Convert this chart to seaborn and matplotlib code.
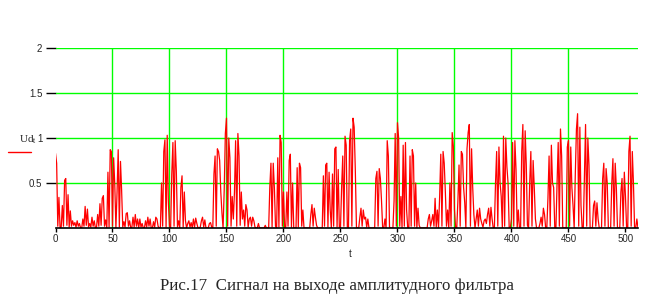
import numpy as np
import pandas as pd
import matplotlib
matplotlib.use("Agg")
import matplotlib.pyplot as plt
from matplotlib.lines import Line2D
import seaborn as sns

# Sample values of the filter output Ud_t, t = 0..511
ud = [
    0.83, 0.72, 0.02, 0.34, 0.00, 0.01, 0.25, 0.02, 0.53, 0.55, 0.03, 0.37, 0.01, 0.19, 0.02, 0.08,
    0.03, 0.06, 0.01, 0.08, 0.02, 0.05, 0.00, 0.00, 0.10, 0.02, 0.24, 0.03, 0.21, 0.01, 0.05, 0.01,
    0.12, 0.02, 0.08, 0.00, 0.01, 0.15, 0.02, 0.27, 0.03, 0.33, 0.36, 0.02, 0.09, 0.00, 0.62, 0.01,
    0.87, 0.85, 0.02, 0.78, 0.48, 0.00, 0.40, 0.87, 0.01, 0.74, 0.42, 0.01, 0.07, 0.01, 0.16, 0.17,
    0.02, 0.08, 0.00, 0.01, 0.12, 0.01, 0.15, 0.02, 0.10, 0.00, 0.10, 0.01, 0.05, 0.00, 0.00, 0.08,
    0.01, 0.12, 0.02, 0.10, 0.00, 0.00, 0.07, 0.01, 0.12, 0.10, 0.02, 0.00, 0.00, 0.50, 0.02, 0.85,
    0.98, 0.01, 1.03, 0.29, 0.02, 0.00, 0.60, 0.95, 0.02, 0.97, 0.63, 0.01, 0.08, 0.00, 0.45, 0.58,
    0.01, 0.40, 0.08, 0.00, 0.05, 0.08, 0.01, 0.06, 0.00, 0.10, 0.01, 0.11, 0.05, 0.00, 0.00, 0.01,
    0.08, 0.12, 0.01, 0.09, 0.00, 0.00, 0.00, 0.05, 0.06, 0.01, 0.00, 0.60, 0.80, 0.02, 0.88, 0.85,
    0.75, 0.40, 0.17, 0.00, 0.42, 1.05, 1.22, 0.02, 1.00, 0.78, 0.02, 0.35, 0.10, 0.40, 0.97, 0.02,
    1.05, 0.80, 0.03, 0.40, 0.10, 0.20, 0.02, 0.26, 0.20, 0.01, 0.10, 0.12, 0.02, 0.12, 0.08, 0.01,
    0.00, 0.00, 0.05, 0.00, 0.00, 0.00, 0.00, 0.00, 0.03, 0.00, 0.00, 0.00, 0.45, 0.72, 0.01, 0.72,
    0.45, 0.02, 0.00, 0.78, 0.01, 1.03, 0.95, 0.02, 0.40, 0.00, 0.01, 0.40, 0.02, 0.75, 0.82, 0.01,
    0.50, 0.00, 0.00, 0.00, 0.67, 0.01, 0.72, 0.67, 0.02, 0.20, 0.00, 0.00, 0.00, 0.00, 0.00, 0.00,
    0.15, 0.26, 0.02, 0.22, 0.12, 0.03, 0.00, 0.00, 0.00, 0.00, 0.00, 0.58, 0.02, 0.70, 0.72, 0.01,
    0.62, 0.20, 0.00, 0.60, 0.02, 0.88, 0.90, 0.01, 0.65, 0.00, 0.00, 0.45, 0.80, 0.02, 1.02, 0.92,
    0.01, 0.00, 0.97, 1.10, 0.02, 1.22, 1.12, 0.65, 0.01, 0.00, 0.00, 0.12, 0.22, 0.02, 0.20, 0.10,
    0.12, 0.01, 0.10, 0.00, 0.00, 0.00, 0.00, 0.00, 0.00, 0.55, 0.63, 0.02, 0.66, 0.55, 0.30, 0.00,
    0.00, 0.10, 0.00, 0.97, 0.80, 0.01, 0.00, 0.00, 0.00, 0.30, 1.05, 0.02, 1.17, 1.00, 0.02, 0.35,
    0.00, 0.92, 0.02, 0.95, 0.20, 0.00, 0.01, 0.80, 0.02, 0.87, 0.80, 0.02, 0.50, 0.00, 0.22, 0.03,
    0.00, 0.00, 0.00, 0.00, 0.00, 0.00, 0.00, 0.10, 0.15, 0.02, 0.08, 0.15, 0.02, 0.33, 0.01, 0.20,
    0.00, 0.35, 0.82, 0.02, 0.85, 0.72, 0.40, 0.02, 0.20, 0.00, 0.50, 0.02, 1.06, 0.91, 0.20, 0.00,
    0.00, 0.30, 0.70, 0.02, 0.85, 0.82, 0.45, 0.28, 0.00, 0.88, 1.06, 1.15, 0.02, 0.88, 0.45, 0.15,
    0.00, 0.10, 0.20, 0.02, 0.22, 0.10, 0.05, 0.01, 0.08, 0.10, 0.05, 0.15, 0.22, 0.02, 0.23, 0.10,
    0.00, 0.00, 0.50, 0.85, 0.02, 0.90, 0.50, 0.35, 0.00, 1.02, 0.02, 1.00, 0.68, 0.50, 0.00, 0.00,
    0.10, 0.95, 0.02, 0.97, 0.65, 0.00, 0.20, 0.00, 0.00, 0.85, 1.15, 0.02, 1.08, 0.70, 0.03, 0.00,
    0.50, 0.85, 0.02, 0.75, 0.45, 0.10, 0.00, 0.00, 0.00, 0.05, 0.12, 0.02, 0.22, 0.15, 0.00, 0.00,
    0.33, 0.80, 0.02, 0.92, 0.50, 0.45, 0.00, 0.00, 0.50, 0.95, 0.02, 1.10, 0.80, 0.00, 0.00, 0.00,
    0.00, 0.90, 0.97, 0.02, 0.90, 0.45, 0.25, 0.00, 0.60, 1.10, 1.27, 0.02, 1.12, 0.25, 0.00, 0.00,
    0.58, 1.15, 0.02, 1.00, 0.70, 0.00, 0.00, 0.00, 0.25, 0.30, 0.02, 0.28, 0.10, 0.00, 0.00, 0.00,
    0.55, 0.72, 0.02, 0.66, 0.50, 0.00, 0.00, 0.00, 0.50, 0.77, 0.02, 0.72, 0.45, 0.00, 0.00, 0.00,
    0.40, 0.55, 0.02, 0.62, 0.35, 0.00, 0.00, 0.85, 1.02, 0.02, 0.85, 0.50, 0.00, 0.00, 0.10, 0.00,
]
t = list(range(len(ud)))

x_ticks = [0, 50, 100, 150, 200, 250, 300, 350, 400, 450, 500]
y_ticks = [0.5, 1, 1.5, 2]
y_tick_labels = ["0.5", "1", "1.5", "2"]
x_grid = [50, 100, 150, 200, 300, 350, 400, 450]
caption = "Рис.17  Сигнал на выходе амплитудного фильтра"
legend_label = r"Ud$_{\mathrm{t}}$"

sns.set_style("white")
plt.rcParams["font.family"] = ["Liberation Sans", "DejaVu Sans"]
plt.rcParams["mathtext.fontset"] = "custom"
plt.rcParams["mathtext.rm"] = "Liberation Serif"

W, H = 649, 300
fig = plt.figure(figsize=(W / 100, H / 100), dpi=100)
left, right = 55.5 / W, 638 / W
bottom, top = 1 - 228 / H, 1 - 48 / H
ax = fig.add_axes([left, bottom, right - left, top - bottom])

df = pd.DataFrame({"t": t, "Ud": ud})

green = "#00ff00"
for gy in y_ticks:
    ax.axhline(gy, color=green, lw=1.0, zorder=1)
for gx in x_grid:
    ax.axvline(gx, color=green, lw=1.0, zorder=1)

sns.lineplot(data=df, x="t", y="Ud", ax=ax, color="#ff0000", lw=0.9, zorder=3)

ax.set_xlim(0, 511)
ax.set_ylim(0, 2)
ax.set_xticks(x_ticks)
ax.set_yticks(y_ticks)
ax.set_yticklabels(y_tick_labels)
ax.set_xlabel("")
ax.set_ylabel("")
for s in ["top", "right", "left"]:
    ax.spines[s].set_visible(False)
ax.spines["bottom"].set_color("black")
ax.spines["bottom"].set_linewidth(1.2)
ax.spines["bottom"].set_zorder(4)
ax.tick_params(axis="y", length=7.5, width=1.0, color="black", pad=2, labelsize=7, direction="out", left=True)
ax.tick_params(axis="x", length=3, width=1.0, color="black", pad=1.5, labelsize=7, direction="out", bottom=True)
ax.patch.set_alpha(0)

# axis label t
fig.text(350 / W, 1 - 254 / H, "t", ha="center", va="center", fontsize=7)

# legend
fig.text(19 / W, 1 - 140 / H, legend_label, ha="left", va="center", fontsize=8,
         family=["Liberation Serif", "DejaVu Serif"])
fig.add_artist(Line2D([8 / W, 31 / W], [1 - 152 / H, 1 - 152 / H], color="#ff0000", lw=1.0))

# caption
fig.text(337 / W, 1 - 286 / H, caption, ha="center", va="center", fontsize=12.2,
         family=["Liberation Serif", "DejaVu Serif"])

fig.savefig("out.png", dpi=100, facecolor="white")
